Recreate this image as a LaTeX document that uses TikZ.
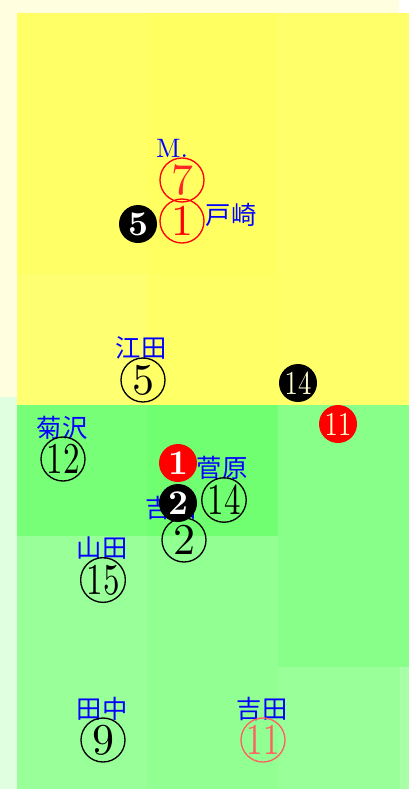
\documentclass[tikz,border=0pt]{standalone}
\usepackage{fontspec}
\newfontfamily\jp{Noto Sans CJK JP}
\newfontfamily\ziffer{lmroman10-regular.otf}
\newfontfamily\zifferfett{lmroman10-bold.otf}
\usetikzlibrary{positioning}
\definecolor{elfenbein}{HTML}{FFFFE0}
\definecolor{hellgruen}{HTML}{E0FFE0}
\definecolor{gelbA}{HTML}{FFFF66}
\definecolor{gelbB}{HTML}{FFFF62}
\definecolor{gelbC}{HTML}{FFFF6A}
\definecolor{gelbD}{HTML}{FFFF72}
\definecolor{gruenA}{HTML}{77FF77}
\definecolor{gruenB}{HTML}{70FF70}
\definecolor{gruenC}{HTML}{88FF88}
\definecolor{gruenD}{HTML}{99FF99}
\definecolor{gruenE}{HTML}{92FF92}
\definecolor{gruenF}{HTML}{A8FFA8}
\definecolor{rosa}{HTML}{FF6060}
\definecolor{blass}{HTML}{FFFFD0}

\begin{document}
\begin{tikzpicture}[x=0.75pt,y=-0.75pt, % 1 Einheit = 1 Pixel, y nach unten
    spieler/.style={text=blue, inner sep=0pt, font=\jp\fontsize{19}{19}\selectfont},
    kreis/.style={circle, draw, line width=1pt, minimum size=33pt, inner sep=0pt, font=\ziffer\fontsize{33}{33}\selectfont},
    voll/.style={circle, fill=black, text=white, minimum size=28.5pt, inner sep=0pt, font=\zifferfett\fontsize{26}{26}\selectfont},
    zwei/.style={text=blass, font=\ziffer\fontsize{25}{25}\selectfont}]

    \useasboundingbox (0,0) rectangle (417,789);

    % Hintergrund
    \fill[elfenbein] (0,0) rectangle (399,397);
    \fill[hellgruen] (0,397) rectangle (17,789);

    % Felder (Spalten 17-147-278-409)
    \foreach \xa/\ya/\xb/\yb/\farbe in {
        17/13/147/274/gelbA, 147/13/278/274/gelbB, 278/13/409/274/gelbC,
        17/274/147/405/gelbD, 147/274/278/405/gelbA, 278/274/409/405/gelbC,
        17/405/147/536/gruenA, 147/405/278/536/gruenB, 278/405/409/667/gruenC,
        17/536/147/789/gruenD, 147/536/278/789/gruenE,
        278/667/400/789/gruenD, 400/667/409/789/gruenF} {
        \fill[\farbe] (\xa,\ya) rectangle (\xb,\yb); % ein Feld
    }

    % oben
    \node[text=blue, font=\ziffer\fontsize{20}{20}\selectfont, inner sep=0pt] (mpunkt) at (172,148) {M.};
    \node[kreis, draw=red, text=red!85] (nr7) at (182,180) {7};
    \node[kreis, draw=red, text=red] (nr1) at (182,221) {1};
    \node[voll] (sw5) at (138,224) {5};
    \node[spieler] (tozaki) at (231,215) {戸崎};

    % Mitte
    \node[spieler] (eda) at (141,348) {江田};
    \node[kreis] (nr5) at (143,380) {5};
    \node[voll, zwei] (sw14) at (298,383) {\scalebox{0.8}[1]{14}};
    \node[voll, fill=red, zwei] (rt11) at (338,424) {\scalebox{0.8}[1]{11}};

    \node[spieler] (kikuzawa) at (62,428) {菊沢};
    \node[kreis] (nr12) at (63,459) {\scalebox{0.75}[1]{12}};

    \node[voll, fill=red] (rt1) at (178,463) {1};
    \node[spieler] (sugawara) at (222,468) {菅原};
    \node[kreis] (nr14) at (224,500) {\scalebox{0.75}[1]{14}};
    \node[spieler] (yoshida) at (171,508) {吉田};
    \node[voll] (sw2) at (178,503) {2};
    \node[kreis] (nr2) at (184,540) {2};

    % unten
    \node[spieler] (yamada) at (102,548) {山田};
    \node[kreis] (nr15) at (103,580) {\scalebox{0.75}[1]{15}};
    \node[spieler] (tanaka) at (102,709) {田中};
    \node[kreis] (nr9) at (103,740) {9};
    \node[spieler] (yoshidaB) at (262,709) {吉田};
    \node[kreis, draw=rosa, text=rosa] (nr11) at (263,740) {\scalebox{0.75}[1]{11}};
\end{tikzpicture}
\end{document}
